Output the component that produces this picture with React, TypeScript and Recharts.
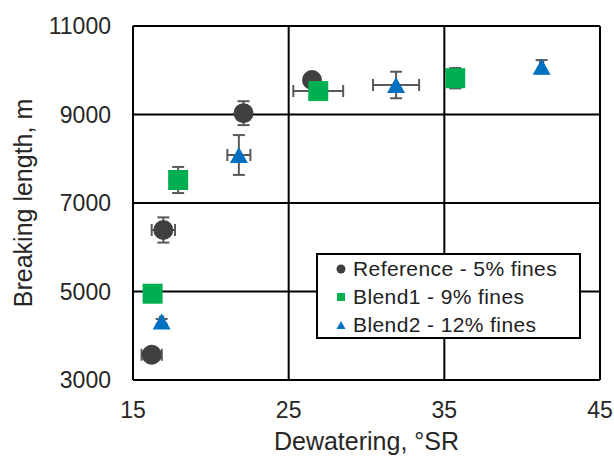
import React from "react";
import {
  CartesianGrid,
  ErrorBar,
  Label,
  Legend,
  Scatter,
  ScatterChart,
  XAxis,
  YAxis,
} from "recharts";

// dewatering (°SR) vs breaking length (m), with x / y error half-widths
const refDewatering = [16.2, 16.95, 22.1, 26.5];
const refBreaking = [3570, 6390, 9030, 9780];
const refXErr = [0.65, 0.75, 0.2, 0.2];
const refYErr = [60, 285, 270, 100];

const blend1Dewatering = [16.26, 17.9, 26.9, 35.7];
const blend1Breaking = [4950, 7520, 9530, 9820];
const blend1XErr = [0.2, 0.2, 1.6, 0.2];
const blend1YErr = [60, 295, 60, 230];

const blend2Dewatering = [16.84, 21.8, 31.9, 41.25];
const blend2Breaking = [4320, 8085, 9667, 10080];
const blend2XErr = [0.1, 0.74, 1.48, 0.1];
const blend2YErr = [60, 450, 300, 150];

const seriesNames = [
  "Reference - 5% fines",
  "Blend1 - 9% fines",
  "Blend2 - 12% fines",
];
const xTicks = [15, 25, 35, 45];
const yTicks = [3000, 5000, 7000, 9000, 11000];

const DARK = "#404040";
const GREEN = "#00B050";
const BLUE = "#0070C0";
const ERR = "#595959";
const TEXT = "#262626";
const FONT = "'Liberation Sans', Arial, sans-serif";

function toPoints(xs: number[], ys: number[], ex: number[], ey: number[]) {
  return xs.map((x, i) => ({ x, y: ys[i], ex: ex[i], ey: ey[i] }));
}

const refData = toPoints(refDewatering, refBreaking, refXErr, refYErr);
const blend1Data = toPoints(blend1Dewatering, blend1Breaking, blend1XErr, blend1YErr);
const blend2Data = toPoints(blend2Dewatering, blend2Breaking, blend2XErr, blend2YErr);

const CircleDot = (p: any) => <circle cx={p.cx} cy={p.cy} r={10} fill={DARK} />;
const SquareDot = (p: any) => (
  <rect x={p.cx - 10} y={p.cy - 10} width={20} height={20} fill={GREEN} />
);
const TriangleDot = (p: any) => (
  <polygon
    points={`${p.cx},${p.cy - 8} ${p.cx - 9},${p.cy + 8} ${p.cx + 9},${p.cy + 8}`}
    fill={BLUE}
  />
);

function LegendIcon({ i }: { i: number }) {
  return (
    <svg width={10} height={10} style={{ display: "block" }}>
      {i === 0 && <circle cx={5} cy={5} r={4.5} fill={DARK} />}
      {i === 1 && <rect x={1} y={1} width={8} height={8} fill={GREEN} />}
      {i === 2 && <polygon points="5,1 9.5,9 0.5,9" fill={BLUE} />}
    </svg>
  );
}

function LegendBox() {
  return (
    <div
      style={{
        boxSizing: "border-box",
        width: 265,
        height: 86,
        border: "2px solid #000",
        background: "#fff",
        fontFamily: FONT,
        fontSize: 21,
        letterSpacing: 0.4,
        color: "#222",
      }}
    >
      {seriesNames.map((name, i) => (
        <div
          key={name}
          style={{ display: "flex", alignItems: "center", height: 28, paddingLeft: 18 }}
        >
          <LegendIcon i={i} />
          <span style={{ marginLeft: 7, whiteSpace: "nowrap" }}>{name}</span>
        </div>
      ))}
    </div>
  );
}

const YTitle = ({ viewBox }: any) => {
  const x = viewBox.x + 23;
  const y = viewBox.y + viewBox.height / 2;
  return (
    <text
      x={x}
      y={y}
      transform={`rotate(-90, ${x}, ${y})`}
      textAnchor="middle"
      dominantBaseline="central"
      fill={TEXT}
      fontSize={25}
      fontFamily={FONT}
    >
      Breaking length, m
    </text>
  );
};

const XTitle = ({ viewBox }: any) => (
  <text
    x={viewBox.x + viewBox.width / 2}
    y={viewBox.y + 70}
    textAnchor="middle"
    fill={TEXT}
    fontSize={25}
    fontFamily={FONT}
  >
    Dewatering, °SR
  </text>
);

export default function App() {
  const tickStyle = { fill: TEXT, fontSize: 23, fontFamily: FONT };
  return (
    <div style={{ position: "absolute", left: 0, top: 0, background: "#fff" }}>
      <ScatterChart
        width={614}
        height={457}
        margin={{ top: 26, right: 14, bottom: 0, left: 0 }}
      >
        <CartesianGrid stroke="#000" strokeWidth={2} />
        <XAxis
          type="number"
          dataKey="x"
          domain={[15, 45]}
          ticks={xTicks}
          height={77}
          tickLine={false}
          tickSize={0}
          tickMargin={22}
          axisLine={{ stroke: "#000", strokeWidth: 2 }}
          tick={tickStyle}
          interval={0}
        >
          <Label content={XTitle} />
        </XAxis>
        <YAxis
          type="number"
          dataKey="y"
          domain={[3000, 11000]}
          ticks={yTicks}
          width={133}
          tickLine={false}
          tickSize={0}
          tickMargin={22}
          axisLine={{ stroke: "#000", strokeWidth: 2 }}
          tick={tickStyle}
          interval={0}
        >
          <Label content={YTitle} />
        </YAxis>
        <Legend
          layout="vertical"
          align="center"
          verticalAlign="middle"
          wrapperStyle={{ left: 316, top: 253, width: 265, height: 86 }}
          content={() => <LegendBox />}
        />
        <Scatter
          name={seriesNames[0]}
          data={refData}
          shape={CircleDot}
          isAnimationActive={false}
        >
          <ErrorBar dataKey="ex" direction="x" width={6} stroke={ERR} strokeWidth={2} />
          <ErrorBar dataKey="ey" direction="y" width={6} stroke={ERR} strokeWidth={2} />
        </Scatter>
        <Scatter
          name={seriesNames[1]}
          data={blend1Data}
          shape={SquareDot}
          isAnimationActive={false}
        >
          <ErrorBar dataKey="ex" direction="x" width={6} stroke={ERR} strokeWidth={2} />
          <ErrorBar dataKey="ey" direction="y" width={6} stroke={ERR} strokeWidth={2} />
        </Scatter>
        <Scatter
          name={seriesNames[2]}
          data={blend2Data}
          shape={TriangleDot}
          isAnimationActive={false}
        >
          <ErrorBar dataKey="ex" direction="x" width={6} stroke={ERR} strokeWidth={2} />
          <ErrorBar dataKey="ey" direction="y" width={6} stroke={ERR} strokeWidth={2} />
        </Scatter>
      </ScatterChart>
    </div>
  );
}
